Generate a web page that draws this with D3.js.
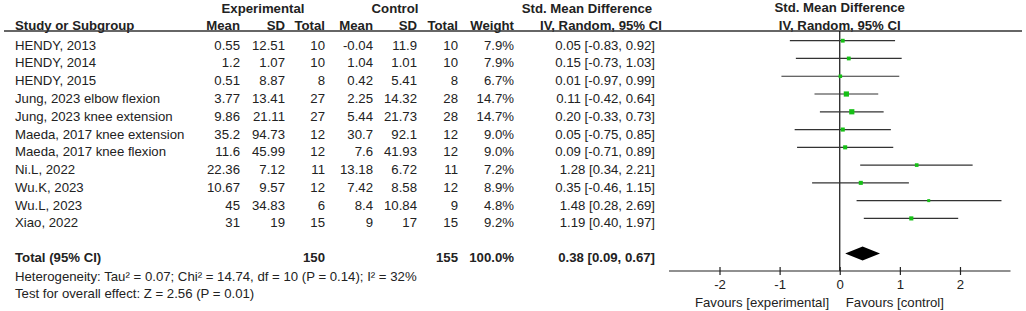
<!DOCTYPE html>
<html>
<head>
<meta charset="utf-8">
<script src="https://cdn.jsdelivr.net/npm/d3@7"></script>
<style>
  body { margin: 0; background: #fff; }
  text { font-family: "Liberation Sans", Arial, sans-serif; font-size: 13.2px; fill: #222; }
  .b { font-weight: bold; }
</style>
</head>
<body>
<script>
const width = 1026;
const height = 311;

const studies = ['HENDY, 2013', 'HENDY, 2014', 'HENDY, 2015', 'Jung, 2023 elbow flexion',
  'Jung, 2023 knee extension', 'Maeda, 2017 knee extension', 'Maeda, 2017 knee flexion',
  'Ni.L, 2022', 'Wu.K, 2023', 'Wu.L, 2023', 'Xiao, 2022'];
const expMean = [0.55, 1.2, 0.51, 3.77, 9.86, 35.2, 11.6, 22.36, 10.67, 45, 31];
const expSD = [12.51, 1.07, 8.87, 13.41, 21.11, 94.73, 45.99, 7.12, 9.57, 34.83, 19];
const expN = [10, 10, 8, 27, 27, 12, 12, 11, 12, 6, 15];
const ctlMean = [-0.04, 1.04, 0.42, 2.25, 5.44, 30.7, 7.6, 13.18, 7.42, 8.4, 9];
const ctlSD = [11.9, 1.01, 5.41, 14.32, 21.73, 92.1, 41.93, 6.72, 8.58, 10.84, 17];
const ctlN = [10, 10, 8, 28, 28, 12, 12, 11, 12, 9, 15];
const weight = [7.9, 7.9, 6.7, 14.7, 14.7, 9.0, 9.0, 7.2, 8.9, 4.8, 9.2];
const smd = [0.05, 0.15, 0.01, 0.11, 0.20, 0.05, 0.09, 1.28, 0.35, 1.48, 1.19];
const lower = [-0.83, -0.73, -0.97, -0.42, -0.33, -0.75, -0.71, 0.34, -0.46, 0.28, 0.40];
const upper = [0.92, 1.03, 0.99, 0.64, 0.73, 0.85, 0.89, 2.21, 1.15, 2.69, 1.97];

const total = { expN: 150, ctlN: 155, weight: 100.0, smd: 0.38, lower: 0.09, upper: 0.67 };
const heterogeneity = 'Heterogeneity: Tau² = 0.07; Chi² = 14.74, df = 10 (P = 0.14); I² = 32%';
const overall = 'Test for overall effect: Z = 2.56 (P = 0.01)';
const axisTicks = [-2, -1, 0, 1, 2];

const svg = d3.select('body').append('svg')
  .attr('width', width)
  .attr('height', height);

// column right edges
const col = { study: 15, eMean: 240, eSD: 285, eN: 325, cMean: 373, cSD: 417, cN: 458, w: 514, ci: 655 };

const rowY = d3.scaleLinear().domain([0, studies.length - 1]).range([45, 222.7]);
const x = d3.scaleLinear().domain([-2.84, 2.84]).range([669, 1010.5]);
const side = d3.scaleSqrt().domain([0, 14.7]).range([0, 5.2]);

// plain hyphen minus, like the original
const fmt2 = v => v.toFixed(2);
const ciText = (m, l, u) => fmt2(m) + ' [' + fmt2(l) + ', ' + fmt2(u) + ']';

function txt(x0, y0, s, anchor, bold) {
  svg.append('text')
    .attr('x', x0).attr('y', y0)
    .attr('text-anchor', anchor || 'start')
    .classed('b', !!bold)
    .text(s);
}

// headers
txt(263, 12.5, 'Experimental', 'middle', true);
txt(395, 12.5, 'Control', 'middle', true);
txt(587, 12.5, 'Std. Mean Difference', 'middle', true);
txt(x(0), 12, 'Std. Mean Difference', 'middle', true);
txt(col.study, 29.5, 'Study or Subgroup', 'start', true);
txt(col.eMean, 29.5, 'Mean', 'end', true);
txt(col.eSD, 29.5, 'SD', 'end', true);
txt(col.eN, 29.5, 'Total', 'end', true);
txt(col.cMean, 29.5, 'Mean', 'end', true);
txt(col.cSD, 29.5, 'SD', 'end', true);
txt(col.cN, 29.5, 'Total', 'end', true);
txt(col.w, 29.5, 'Weight', 'end', true);
txt(601, 29.5, 'IV, Random, 95% CI', 'middle', true);
txt(x(0), 29.5, 'IV, Random, 95% CI', 'middle', true);

svg.append('line')
  .attr('x1', 4).attr('x2', 1022)
  .attr('y1', 31).attr('y2', 31)
  .attr('stroke', '#333').attr('stroke-width', 1.3);

// study rows
studies.forEach((s, i) => {
  const y = rowY(i) + 4.7;
  txt(col.study, y, s);
  txt(col.eMean, y, String(expMean[i]), 'end');
  txt(col.eSD, y, String(expSD[i]), 'end');
  txt(col.eN, y, String(expN[i]), 'end');
  txt(col.cMean, y, String(ctlMean[i]), 'end');
  txt(col.cSD, y, String(ctlSD[i]), 'end');
  txt(col.cN, y, String(ctlN[i]), 'end');
  txt(col.w, y, weight[i].toFixed(1) + '%', 'end');
  txt(col.ci, y, ciText(smd[i], lower[i], upper[i]), 'end');
});

// total row
const ty = 262;
txt(col.study, ty, 'Total (95% CI)', 'start', true);
txt(col.eN, ty, String(total.expN), 'end', true);
txt(col.cN, ty, String(total.ctlN), 'end', true);
txt(col.w, ty, total.weight.toFixed(1) + '%', 'end', true);
txt(col.ci, ty, ciText(total.smd, total.lower, total.upper), 'end', true);
txt(col.study, 280.7, heterogeneity);
txt(col.study, 298.3, overall);

// forest plot
const plot = svg.append('g');

plot.append('line')
  .attr('x1', x(0)).attr('x2', x(0))
  .attr('y1', 31).attr('y2', 271)
  .attr('stroke', '#111').attr('stroke-width', 1.2);

const markY = i => rowY(i) - 4.3;

plot.selectAll('line.ci')
  .data(studies)
  .enter().append('line')
  .attr('class', 'ci')
  .attr('x1', (d, i) => x(lower[i]))
  .attr('x2', (d, i) => x(upper[i]))
  .attr('y1', (d, i) => markY(i))
  .attr('y2', (d, i) => markY(i))
  .attr('stroke', '#333').attr('stroke-width', 1.2);

plot.selectAll('rect.sq')
  .data(studies)
  .enter().append('rect')
  .attr('class', 'sq')
  .attr('x', (d, i) => x(smd[i]) - side(weight[i]) / 2)
  .attr('y', (d, i) => markY(i) - side(weight[i]) / 2)
  .attr('width', (d, i) => side(weight[i]))
  .attr('height', (d, i) => side(weight[i]))
  .attr('fill', '#16c016');

const dy = 253.5;
plot.append('path')
  .attr('d', 'M' + x(total.lower) + ',' + dy + 'L' + x(total.smd) + ',' + (dy - 7) +
    'L' + x(total.upper) + ',' + dy + 'L' + x(total.smd) + ',' + (dy + 7) + 'Z')
  .attr('fill', '#000');

const xAxis = d3.axisBottom(x).tickValues(axisTicks).tickSize(4).tickFormat(d3.format('d'));
const axisG = plot.append('g')
  .attr('transform', 'translate(0,271)')
  .call(xAxis);
axisG.select('.domain').attr('d', 'M' + x.range()[0] + ',0H' + x.range()[1])
  .attr('stroke', '#222').attr('stroke-width', 1.2);
axisG.selectAll('.tick line').attr('y1', -4).attr('y2', 4).attr('stroke', '#222').attr('stroke-width', 1.2);
axisG.selectAll('.tick text')
  .attr('y', 9).attr('dy', '0.71em')
  .style('font-family', '"Liberation Sans", Arial, sans-serif')
  .style('font-size', '13.2px')
  .attr('fill', '#222')
  .text(d => d < 0 ? '-' + Math.abs(d) : String(d));

txt(762, 306.5, 'Favours [experimental]', 'middle');
txt(x(0) + 6, 306.5, 'Favours [control]', 'start');
</script>
</body>
</html>
